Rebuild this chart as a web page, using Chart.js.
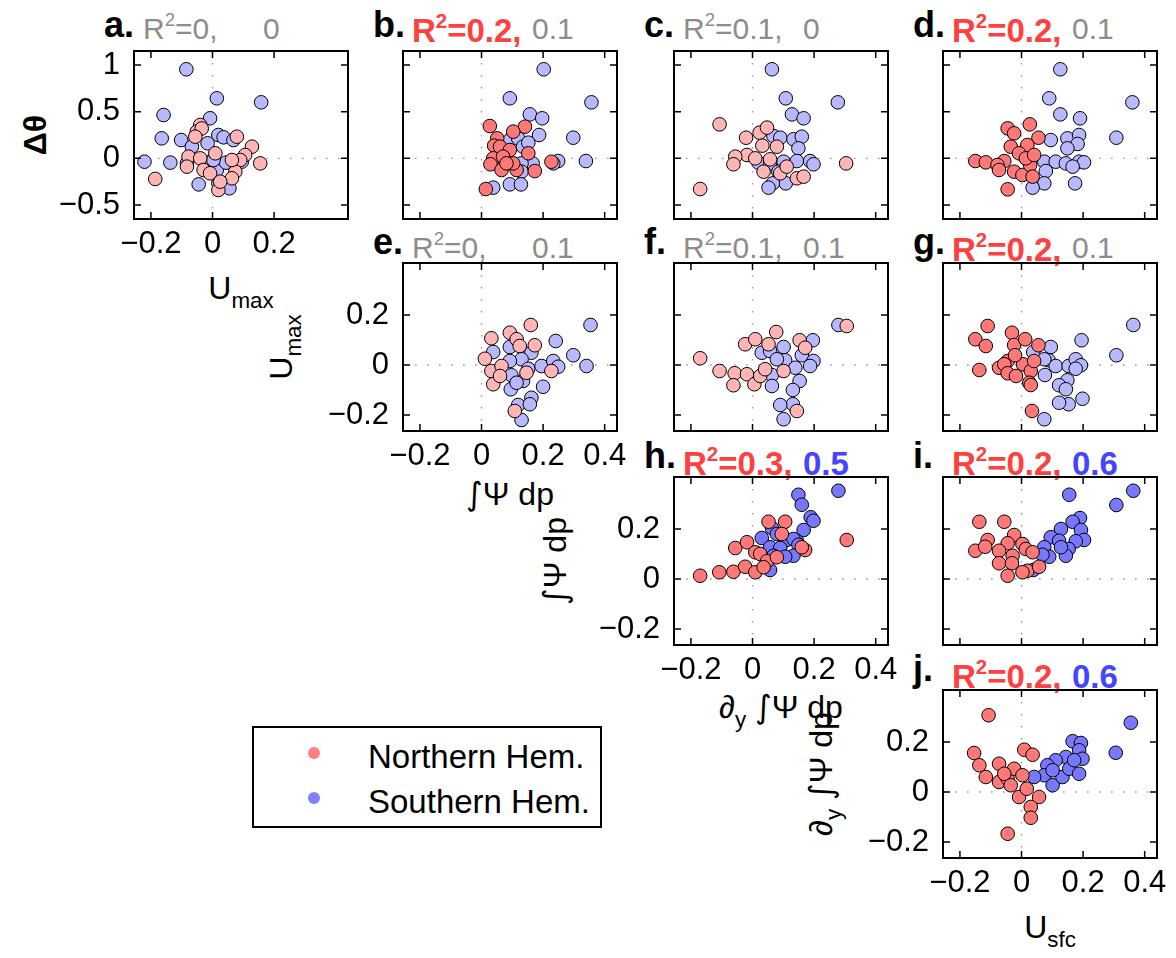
<!DOCTYPE html>
<html>
<head>
<meta charset="utf-8">
<script src="https://cdn.jsdelivr.net/npm/chart.js@4.4.1/dist/chart.umd.min.js"></script>
<style>
  html, body { margin: 0; padding: 0; background: #fff; }
  #fig { position: relative; width: 1176px; height: 958px; overflow: hidden;
         font-family: "Liberation Sans", Arial, Helvetica, sans-serif; color: #000; }
  #fig canvas { position: absolute; }
  .sup { font-size: 0.62em; position: relative; top: -0.68em; }
  .sub { font-size: 0.7em; position: relative; top: 0.42em; }
  .int { font-family: "DejaVu Sans", sans-serif; }
</style>
</head>
<body>
<div id="fig"></div>
<script>
// ---- panel labels and correlation scores (north, south) ----
const panelLetters = ['a', 'b', 'c', 'd', 'e', 'f', 'g', 'h', 'i', 'j'];
const r2North = [0, 0.2, 0.1, 0.2, 0, 0.1, 0.2, 0.3, 0.2, 0.2];
const r2South = [0, 0.1, 0, 0.1, 0.1, 0.1, 0.1, 0.5, 0.6, 0.6];
const sigNorth = [false, true, false, true, false, false, true, true, true, true];
const sigSouth = [false, false, false, false, false, false, false, true, true, true];

// ---- tick labels ----
const xTicksShort = [-0.2, 0, 0.2];
const xTicks = [-0.2, 0, 0.2, 0.4];
const yTicksTheta = [-0.5, 0, 0.5, 1];
const yTicks = [-0.2, 0, 0.2];

// ---- scatter values [x, y] per panel and hemisphere ----
// a: x = Umax, y = dtheta
const aNorth = [[-0.186,-0.221],[-0.040,0.357],[-0.051,0.286],[-0.035,0.32],[-0.056,0.232],[0.079,0.232],[0.128,0.125],[0.155,-0.054],[0.106,0.036],[0.09,-0.018],[-0.078,0.018],[-0.04,0],[0.009,0.054],[-0.029,-0.125],[-0.008,-0.16],[0.019,-0.339],[0.074,-0.143],[0.063,-0.214],[-0.083,-0.089],[0.025,-0.25],[0.063,-0.018]];
const aSouth = [[-0.085,0.954],[0.014,0.643],[0.158,0.6],[-0.159,0.464],[-0.008,0.429],[-0.165,0.214],[-0.102,0.196],[0.019,0.25],[0.036,0.225],[0.068,0.196],[-0.067,0.125],[-0.016,0.161],[-0.221,-0.036],[-0.137,-0.046],[-0.083,-0.054],[-0.008,-0.036],[0.014,-0.125],[0.044,-0.046],[0.095,-0.036],[-0.045,-0.279],[0.019,-0.268],[0.055,-0.321],[0.003,-0.018]];
// b: x = int Psi dp, y = dtheta
const bNorth = [[0.014,-0.329],[0.027,0.346],[0.141,0.339],[0.051,0.214],[0.103,0.286],[0.041,0.136],[0.06,0.125],[0.092,0.089],[0.038,0],[0.07,0.018],[0.029,-0.064],[0.065,-0.125],[0.114,-0.125],[0.173,-0.136],[0.152,0.054],[0.103,-0.054],[0.227,-0.036],[0.081,-0.054]];
const bSouth = [[0.202,0.954],[0.092,0.643],[0.357,0.6],[0.157,0.471],[0.197,0.429],[0.298,0.221],[0.187,0.25],[0.092,0.196],[0.119,0.214],[0.135,0.125],[0.152,0.168],[0.339,-0.029],[0.249,-0.029],[0.233,-0.054],[0.166,-0.054],[0.13,-0.054],[0.13,-0.143],[0.092,-0.279],[0.128,-0.279],[0.038,-0.314]];
// c: x = d/dy int Psi dp, y = dtheta
const cNorth = [[-0.17,-0.329],[-0.107,0.364],[-0.021,0.221],[0.023,0.275],[0.047,0.329],[0.032,0.136],[0.079,0.125],[-0.018,0.036],[-0.056,0.018],[-0.062,-0.064],[0.009,0],[0.057,-0.011],[0.036,-0.143],[0.09,-0.161],[0.144,-0.214],[0.166,-0.196],[0.304,-0.054],[0.111,-0.089]];
const cSouth = [[0.063,0.954],[0.108,0.643],[0.277,0.6],[0.128,0.471],[0.166,0.429],[0.068,0.239],[0.09,0.221],[0.133,0.204],[0.16,0.232],[0.149,0.107],[0.019,-0.046],[0.057,-0.054],[0.101,-0.036],[0.144,-0.029],[0.187,-0.029],[0.198,-0.064],[0.084,-0.143],[0.108,-0.268],[0.066,-0.268],[0.052,-0.314]];
// d: x = Usfc, y = dtheta
const dNorth = [[-0.15,-0.029],[-0.116,-0.043],[-0.045,0.321],[-0.024,0.268],[0.027,0.364],[0.055,0.221],[-0.035,0.125],[0.019,0.143],[-0.008,0.054],[-0.056,-0.029],[-0.078,-0.071],[-0.073,-0.125],[-0.024,-0.143],[0.003,-0.179],[0.028,-0.071],[0.036,-0.196],[-0.045,-0.332],[0.014,0],[0.041,0.036]];
const dSouth = [[0.126,0.954],[0.09,0.643],[0.36,0.6],[0.126,0.471],[0.19,0.429],[0.308,0.221],[0.095,0.196],[0.149,0.214],[0.187,0.25],[0.182,0.154],[0.149,0.107],[0.074,-0.036],[0.111,-0.036],[0.144,-0.054],[0.187,-0.036],[0.203,-0.043],[0.166,-0.089],[0.079,-0.136],[0.074,-0.268],[0.174,-0.268],[0.036,-0.314]];
// e: x = int Psi dp, y = Umax
const eNorth = [[0.16,0.16],[0.092,0.129],[0.032,0.107],[0.114,0.103],[0.173,0.079],[0.011,0.025],[0.032,-0.024],[0.038,-0.077],[0.065,-0.004],[0.124,0.076],[0.227,-0.024],[0.108,-0.184],[0.06,-0.044],[0.146,-0.031]];
const eSouth = [[0.354,0.16],[0.241,0.096],[0.298,0.039],[0.341,-0.004],[0.038,0.052],[0.092,0.072],[0.162,0.049],[0.13,0.023],[0.092,0.016],[0.152,-0.015],[0.195,-0.004],[0.233,0.016],[0.249,-0.007],[0.097,-0.041],[0.135,-0.064],[0.095,-0.097],[0.2,-0.087],[0.162,-0.131],[0.119,-0.16],[0.157,-0.157],[0.13,-0.22],[0.114,-0.071]];
// f: x = d/dy int Psi dp, y = Umax
const fNorth = [[0.306,0.156],[-0.17,0.027],[-0.107,-0.024],[-0.058,-0.033],[-0.018,-0.037],[-0.062,-0.081],[0.006,-0.077],[-0.024,0.083],[0.009,0.103],[0.077,0.132],[0.052,0.083],[0.153,0.099],[0.025,-0.044],[0.041,-0.017],[0.101,-0.024],[0.144,-0.184],[0.171,0.069]];
const fSouth = [[0.279,0.16],[0.196,0.099],[0.03,0.049],[0.057,0.056],[0.101,0.072],[0.106,0.019],[0.16,0.039],[0.198,0.016],[0.187,-0.004],[0.139,-0.011],[0.063,-0.04],[0.063,-0.084],[0.153,-0.064],[0.131,-0.1],[0.131,-0.157],[0.09,-0.16],[0.101,-0.217],[0.079,0.023]];
// g: x = Usfc, y = Umax
const gNorth = [[-0.11,0.156],[-0.15,0.103],[-0.116,0.076],[-0.031,0.129],[-0.024,0.08],[0.012,0.103],[0.055,0.079],[-0.137,-0.02],[-0.073,-0.011],[-0.045,0.016],[-0.056,0.003],[-0.045,-0.033],[-0.018,-0.044],[0.005,0.003],[0.03,-0.024],[0.025,-0.071],[0.03,-0.08],[0.034,-0.184],[0.041,0.016],[-0.021,0.039]];
const gSouth = [[0.363,0.16],[0.308,0.039],[0.195,0.099],[0.095,0.072],[0.038,0.052],[0.088,0.019],[0.111,-0.004],[0.076,-0.04],[0.153,-0.004],[0.176,0.023],[0.193,-0.001],[0.176,-0.015],[0.149,-0.061],[0.122,-0.081],[0.144,-0.097],[0.198,-0.135],[0.153,-0.157],[0.122,-0.151],[0.074,-0.217],[0.074,0.023]];
// h: x = d/dy int Psi dp, y = int Psi dp
const hNorth = [[0.306,0.156],[-0.17,0.013],[-0.108,0.027],[-0.062,0.029],[-0.056,0.124],[-0.018,0.147],[-0.024,0.049],[0.009,0.027],[0.052,0.229],[0.106,0.229],[0.009,0.107],[0.025,0.1],[0.047,0.071],[0.079,0.087],[0.095,0.18],[0.171,0.116],[0.16,0.127],[0.036,0.047]];
const hSouth = [[0.279,0.353],[0.149,0.337],[0.16,0.297],[0.189,0.247],[0.198,0.233],[0.166,0.196],[0.063,0.204],[0.03,0.164],[0.079,0.18],[0.111,0.156],[0.144,0.153],[0.133,0.16],[0.149,0.137],[0.057,0.127],[0.09,0.124],[0.068,0.093],[0.133,0.093],[0.106,0.089],[0.057,0.036]];
// i: x = Usfc, y = int Psi dp
const iNorth = [[-0.137,0.229],[-0.056,0.229],[-0.11,0.156],[-0.15,0.113],[-0.118,0.129],[-0.024,0.176],[-0.045,0.143],[0.003,0.14],[-0.073,0.113],[-0.029,0.093],[-0.073,0.063],[-0.031,0.063],[0.014,0.12],[0.036,0.107],[-0.045,0.013],[0.019,0.033],[0.057,0.049],[0.003,0.027]];
const iSouth = [[0.363,0.353],[0.308,0.296],[0.155,0.337],[0.19,0.244],[0.166,0.229],[0.193,0.196],[0.128,0.2],[0.203,0.156],[0.176,0.151],[0.095,0.167],[0.122,0.153],[0.153,0.12],[0.144,0.093],[0.074,0.127],[0.09,0.089],[0.068,0.097],[0.038,0.036],[0.128,0.127]];
// j: x = Usfc, y = d/dy int Psi dp
const jNorth = [[-0.107,0.307],[-0.154,0.156],[-0.137,0.107],[-0.116,0.06],[-0.073,0.113],[-0.073,0.04],[-0.045,0.053],[-0.024,0.093],[0.003,0.067],[-0.035,0.027],[-0.008,-0.02],[0.017,0.013],[0.009,0.169],[0.036,0.149],[0.057,-0.02],[0.03,-0.06],[0.03,-0.103],[-0.045,-0.167],[-0.056,0.073]];
const jSouth = [[0.355,0.277],[0.306,0.157],[0.166,0.203],[0.193,0.196],[0.187,0.167],[0.198,0.133],[0.144,0.14],[0.111,0.127],[0.084,0.107],[0.074,0.067],[0.041,0.06],[0.101,0.027],[0.133,0.06],[0.155,0.093],[0.187,0.073],[0.171,0.127],[0.101,0.087]];

// ---- layout ----
const FONT = '"Liberation Sans", Arial, Helvetica, sans-serif';
const colLeft = [134, 403, 674, 943];
const rowTop = [51, 263, 477, 690];
const PW = 214, PH = 168;
const xRange = [-0.255, 0.44];
const yRangeTheta = [-0.65, 1.15];
const yRange = [-0.264, 0.408];

const RED_LIGHT = '#ffb5b5', RED_STRONG = '#ff7878';
const BLUE_LIGHT = '#b8b8ff', BLUE_STRONG = '#7878ff';

const panels = [
  { col: 0, row: 0, xt: xTicksShort, north: aNorth, south: aSouth, showX: true,  showY: true  },
  { col: 1, row: 0, xt: xTicks,      north: bNorth, south: bSouth, showX: false, showY: false },
  { col: 2, row: 0, xt: xTicks,      north: cNorth, south: cSouth, showX: false, showY: false },
  { col: 3, row: 0, xt: xTicks,      north: dNorth, south: dSouth, showX: false, showY: false },
  { col: 1, row: 1, xt: xTicks,      north: eNorth, south: eSouth, showX: true,  showY: true  },
  { col: 2, row: 1, xt: xTicks,      north: fNorth, south: fSouth, showX: false, showY: false },
  { col: 3, row: 1, xt: xTicks,      north: gNorth, south: gSouth, showX: false, showY: false },
  { col: 2, row: 2, xt: xTicks,      north: hNorth, south: hSouth, showX: true,  showY: true  },
  { col: 3, row: 2, xt: xTicks,      north: iNorth, south: iSouth, showX: false, showY: false },
  { col: 3, row: 3, xt: xTicks,      north: jNorth, south: jSouth, showX: true,  showY: true  }
];

const fig = document.getElementById('fig');

// text anchored at its baseline; optional centring and rotation
function text(html, x, base, size, css, opts) {
  opts = opts || {};
  const w = document.createElement('div');
  w.style.cssText = 'position:absolute;width:0;height:0;left:' + x + 'px;top:' + base + 'px;' +
    (opts.rotate ? 'transform:rotate(-90deg);transform-origin:0 0;' : '') + (opts.z ? 'z-index:' + opts.z + ';' : '');
  const s = document.createElement('span');
  s.style.cssText = 'position:absolute;left:0;white-space:nowrap;line-height:1;font-size:' + size +
    'px;top:' + (-0.8465 * size) + 'px;' + (opts.center ? 'transform:translateX(-50%);' : '') + (css || '');
  s.innerHTML = html;
  w.appendChild(s);
  fig.appendChild(w);
}

function fmtTick(v) {
  return v < 0 ? '\u2212' + Math.abs(v) : String(v);
}

// box, inward ticks on all sides and dotted zero lines
const framePlugin = {
  id: 'frame',
  beforeDatasetsDraw(chart, args, o) {
    const { ctx, chartArea: a, scales: { x, y } } = chart;
    const x0 = x.getPixelForValue(0), y0 = y.getPixelForValue(0);
    ctx.save();
    ctx.strokeStyle = '#999';
    ctx.lineWidth = 1.4;
    ctx.setLineDash([1.6, 10.4]);
    ctx.beginPath();
    ctx.moveTo(x0, a.top); ctx.lineTo(x0, a.bottom);
    ctx.moveTo(a.left, y0); ctx.lineTo(a.right, y0);
    ctx.stroke();
    ctx.restore();
  },
  afterDatasetsDraw(chart, args, o) {
    const { ctx, chartArea: a, scales: { x, y } } = chart;
    const L = 7;
    ctx.save();
    ctx.strokeStyle = '#000';
    ctx.lineWidth = 1.5;
    ctx.beginPath();
    o.xt.forEach(v => {
      const p = x.getPixelForValue(v);
      ctx.moveTo(p, a.bottom); ctx.lineTo(p, a.bottom - L);
      ctx.moveTo(p, a.top); ctx.lineTo(p, a.top + L);
    });
    o.yt.forEach(v => {
      const p = y.getPixelForValue(v);
      ctx.moveTo(a.left, p); ctx.lineTo(a.left + L, p);
      ctx.moveTo(a.right, p); ctx.lineTo(a.right - L, p);
    });
    ctx.stroke();
    ctx.lineWidth = 2;
    ctx.strokeRect(a.left, a.top, a.right - a.left, a.bottom - a.top);
    ctx.restore();
  }
};

const padL = 120, padT = 20, padR = 40, padB = 50;

panels.forEach((p, k) => {
  const L = colLeft[p.col], T = rowTop[p.row];
  const yt = p.row === 0 ? yTicksTheta : yTicks;
  const yr = p.row === 0 ? yRangeTheta : yRange;
  const cv = document.createElement('canvas');
  cv.width = PW + padL + padR;
  cv.height = PH + padT + padB;
  cv.style.left = (L - padL) + 'px';
  cv.style.top = (T - padT) + 'px';
  cv.style.zIndex = 1;
  fig.appendChild(cv);

  const toPts = arr => arr.map(d => ({ x: d[0], y: d[1] }));
  new Chart(cv, {
    type: 'scatter',
    data: {
      datasets: [
        { label: 'Northern Hem.', data: toPts(p.north),
          backgroundColor: sigNorth[k] ? RED_STRONG : RED_LIGHT,
          borderColor: '#000', borderWidth: 1, pointRadius: 6.8 },
        { label: 'Southern Hem.', data: toPts(p.south),
          backgroundColor: sigSouth[k] ? BLUE_STRONG : BLUE_LIGHT,
          borderColor: '#000', borderWidth: 1, pointRadius: 6.8 }
      ]
    },
    options: {
      responsive: false, animation: false, devicePixelRatio: 1,
      layout: { padding: { left: 0, top: padT, right: padR, bottom: 0 } },
      plugins: {
        legend: { display: false }, tooltip: { enabled: false },
        frame: { xt: p.xt, yt: yt }
      },
      scales: {
        x: {
          type: 'linear', position: 'bottom', min: xRange[0], max: xRange[1],
          grid: { display: false, drawTicks: false }, border: { display: false },
          ticks: { display: p.showX, color: '#000', padding: 7, maxRotation: 0, autoSkip: false,
                   font: { family: FONT, size: 31 }, callback: fmtTick },
          afterBuildTicks: s => { s.ticks = p.xt.map(v => ({ value: v })); },
          afterFit: s => { s.height = padB; s.paddingLeft = 0; s.paddingRight = 0; }
        },
        y: {
          type: 'linear', position: 'left', min: yr[0], max: yr[1],
          grid: { display: false, drawTicks: false }, border: { display: false },
          ticks: { display: p.showY, color: '#000', padding: 14, autoSkip: false,
                   font: { family: FONT, size: 31 }, callback: fmtTick },
          afterBuildTicks: s => { s.ticks = yt.map(v => ({ value: v })); },
          afterFit: s => { s.width = padL; s.paddingTop = 0; s.paddingBottom = 0; }
        }
      }
    },
    plugins: [framePlugin]
  });

  // panel title: letter, northern score, southern score
  const letterBase = p.row === 0 ? 37 : T - 9;
  const valBase = p.row === 0 ? 39 : T - 5;
  text(panelLetters[k] + '.', L - 30, letterBase, 36, 'font-weight:bold;');
  const nCss = sigNorth[k] ? 'font-weight:bold;color:#ff4040;font-size:33px;' : 'color:#8c8c8c;';
  const sCss = sigSouth[k] ? 'font-weight:bold;color:#4545ff;font-size:33px;' : 'color:#8c8c8c;';
  text('R<span class="sup">2</span>=' + r2North[k] + ',', L + 9, valBase, 30, nCss);
  text(String(r2South[k]), L + 129, valBase, 30, sCss);
});

// axis titles
const AX = 32;
const INT = '<span class="int">\u222B</span>';
text('U<span class="sub">max</span>', 241, 299, AX, '', { center: true });
text(INT + '\u03A8 dp', 510, 505, AX, '', { center: true });
text('\u2202<span class="sub">y</span> ' + INT + '\u03A8 dp', 781, 718, AX, '', { center: true });
text('U<span class="sub">sfc</span>', 1050, 938, AX, '', { center: true });
text('\u0394\u03B8', 46, 135, AX, 'font-weight:bold;', { center: true, rotate: true });
text('U<span class="sub">max</span>', 292, 347, AX, '', { center: true, rotate: true });
text(INT + '\u03A8 dp', 566, 561, AX, '', { center: true, rotate: true });
text('\u2202<span class="sub">y</span> ' + INT + '\u03A8 dp', 832, 774, AX, '', { center: true, rotate: true });

// legend
const lg = document.createElement('div');
lg.style.cssText = 'position:absolute;left:252px;top:726px;width:346px;height:98px;border:2px solid #000;background:#fff;z-index:2;';
fig.appendChild(lg);
[['Northern Hem.', '#ff8080', 753], ['Southern Hem.', '#8080ff', 798]].forEach(([name, col, cy]) => {
  const dot = document.createElement('div');
  dot.style.cssText = 'position:absolute;z-index:3;width:12px;height:12px;border-radius:50%;background:' + col +
    ';left:' + (314 - 6) + 'px;top:' + (cy - 6) + 'px;';
  fig.appendChild(dot);
  text(name, 368, cy + 15, 33, '', { z: 3 });
});
</script>
</body>
</html>
